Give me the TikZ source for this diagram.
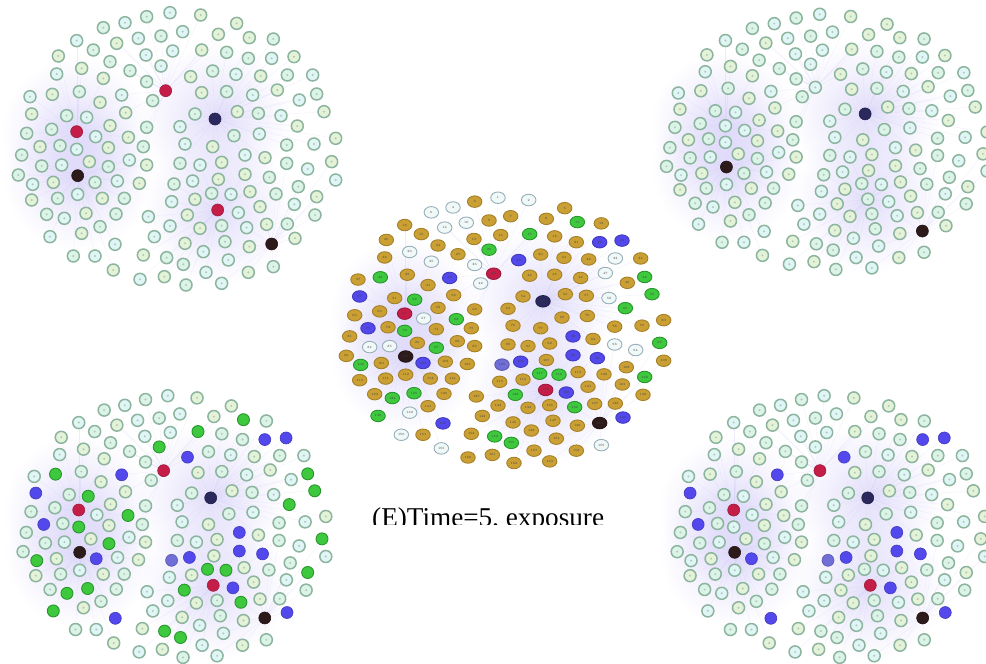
\documentclass[tikz,border=0pt]{standalone}
\usepackage{fontspec}
\newfontfamily\capfont{Liberation Serif}
\usetikzlibrary{backgrounds,fadings,shapes.geometric}
\definecolor{lfill0}{RGB}{220,243,232}
\definecolor{lfill1}{RGB}{224,245,245}
\definecolor{lfill2}{RGB}{228,242,215}
\definecolor{lborder}{RGB}{140,180,158}
\definecolor{ldot}{RGB}{172,204,184}
\definecolor{hred}{RGB}{196,30,72}
\definecolor{hnavy}{RGB}{42,40,92}
\definecolor{hblack}{RGB}{45,26,26}
\definecolor{nblue}{RGB}{82,72,235}
\definecolor{nlblue}{RGB}{112,110,215}
\definecolor{ngreen}{RGB}{62,200,62}
\definecolor{ngreenb}{RGB}{40,150,45}
\definecolor{ngold}{RGB}{202,160,52}
\definecolor{ngoldb}{RGB}{165,128,40}
\definecolor{nwhite}{RGB}{240,248,248}
\definecolor{nwhiteb}{RGB}{150,175,185}
\definecolor{edgec}{RGB}{205,200,245}
\definecolor{hazec}{RGB}{212,206,248}
\tikzfading[name=hazefade, inner color=transparent!35, outer color=transparent!100]
\tikzset{
 nd/.style={circle, inner sep=0pt, minimum size=12pt, line width=1.5pt},
 lv0/.style={fill=lfill0}, lv1/.style={fill=lfill1}, lv2/.style={fill=lfill2},
 lite/.style={nd, draw=lborder, path picture={\fill[ldot] (path picture bounding box.center) circle (1.1pt);}},
 hubR/.style={nd, fill=hred, draw=hred!80!black, line width=0.6pt, minimum size=12pt},
 hubN/.style={nd, fill=hnavy, draw=hnavy!80!black, line width=0.6pt, minimum size=12pt},
 hubK/.style={nd, fill=hblack, draw=hblack!80!black, line width=0.6pt, minimum size=12pt},
 grn/.style={nd, fill=ngreen, draw=ngreenb, line width=0.9pt, minimum size=12pt},
 blu/.style={nd, fill=nblue, draw=nblue!80!black, line width=0.6pt, minimum size=12pt},
 lblu/.style={nd, fill=nlblue, draw=nlblue!80!black, line width=0.6pt, minimum size=12pt},
 cnd/.style={ellipse, inner sep=0pt, minimum width=14.5pt, minimum height=11.5pt, line width=0.9pt, font=\fontsize{3.2}{3.2}\selectfont, text=black!75},
 hazeline/.style={draw=edgec, line width=0.3pt, opacity=0.35},
 tl-R/.style={hubR}, tl-N/.style={hubN}, tl-K/.style={hubK}, tl-G/.style={lite}, tl-B/.style={lite}, tl-L/.style={lite}, tl-W/.style={lite}, tl-O/.style={lite},
 tr-R/.style={lite}, tr-N/.style={hubN}, tr-K/.style={hubK}, tr-G/.style={lite}, tr-B/.style={lite}, tr-L/.style={lite}, tr-W/.style={lite}, tr-O/.style={lite},
 bl-R/.style={hubR}, bl-N/.style={hubN}, bl-K/.style={hubK}, bl-G/.style={grn}, bl-B/.style={blu}, bl-L/.style={lblu}, bl-W/.style={lite}, bl-O/.style={lite},
 br-R/.style={hubR}, br-N/.style={hubN}, br-K/.style={hubK}, br-G/.style={lite}, br-B/.style={blu}, br-L/.style={lblu}, br-W/.style={lite}, br-O/.style={lite},
 c-R/.style={cnd, fill=hred, draw=hred!80!black},
 c-N/.style={cnd, fill=hnavy, draw=hnavy!80!black},
 c-K/.style={cnd, fill=hblack, draw=hblack!80!black},
 c-G/.style={cnd, fill=ngreen, draw=ngreenb},
 c-B/.style={cnd, fill=nblue, draw=nblue!80!black},
 c-L/.style={cnd, fill=nlblue, draw=nlblue!80!black},
 c-W/.style={cnd, fill=nwhite, draw=nwhiteb},
 c-O/.style={cnd, fill=ngold, draw=ngoldb},
}
\def\nodelist{510/38/W, 602/45/W, 440/50/O, 375/68/W, 710/70/O, 310/83/W, 548/95/O, 655/103/O, 483/108/O, 415/115/W,
748/113/G, 820/117/O, 230/122/O, 350/130/W, 280/150/O, 518/153/O, 605/150/G, 680/157/O, 438/165/O, 175/168/O,
745/175/O, 815/175/B, 882/170/B, 330/185/O, 483/198/G, 245/205/W, 390/212/O, 170/222/O, 572/230/B, 638/213/O,
708/223/O, 782/228/O, 862/225/W, 938/225/O, 310/235/W, 440/245/W, 90/290/O, 157/283/G, 238/275/O, 365/285/B,
300/307/O, 458/302/W, 497/272/R, 605/278/O, 680/275/O, 758/285/O, 832/270/W, 950/282/G, 898/300/O, 95/342/B,
200/347/O, 260/352/G, 377/338/O, 585/342/O, 645/357/N, 712/335/O, 775/340/O, 843/347/W, 972/335/G, 155/388/O,
230/395/R, 330/377/O, 440/382/O, 540/380/O, 892/378/G, 80/400/O, 287/410/W, 385/412/G, 702/407/O, 778/402/O,
120/440/B, 180/437/O, 230/448/G, 325/443/O, 430/440/O, 555/432/O, 638/440/O, 860/435/O, 942/432/O, 1007/415/O,
65/465/O, 735/465/B, 795/473/O, 125/498/W, 185/495/W, 268/485/O, 325/500/G, 388/480/O, 440/495/O, 540/490/O,
600/495/O, 665/487/O, 860/490/W, 923/507/W, 995/485/G, 55/525/O, 233/527/K, 735/523/B, 808/532/B, 98/553/G,
160/547/O, 285/547/B, 352/543/O, 418/550/O, 522/552/L, 578/543/B, 655/538/O, 895/560/O, 1007/540/O, 95/600/O,
173/595/O, 233/583/O, 307/595/O, 373/595/O, 515/605/O, 585/598/O, 635/580/G, 693/583/G, 750/575/O, 828/582/O,
883/613/O, 950/590/G, 140/643/O, 193/655/G, 258/640/G, 348/642/O, 445/650/O, 562/645/G, 653/630/R, 715/638/B,
780/620/O, 945/645/O, 510/678/O, 600/685/O, 665/677/O, 740/683/G, 800/673/O, 862/672/O, 150/710/G, 245/700/W,
300/680/O, 463/710/O, 885/715/B, 815/732/K, 345/733/B, 555/730/O, 675/725/O, 610/755/O, 748/740/O, 220/768/W,
285/768/O, 430/765/O, 500/773/G, 685/780/O, 340/810/W, 550/793/G, 618/817/O, 745/817/O, 820/800/W, 420/838/O,
493/830/O, 558/855/O, 665/850/O}
\def\hublist{43/497/272, 61/230/395, 55/645/357, 97/233/527, 129/653/630, 144/815/732}
\newcommand\drawpanel[6]{%
\begin{scope}[shift={(#2pt,-#3pt)},x=#4pt,y=-#5pt]
 \foreach \x/\y/\c [count=\i] in \nodelist {%
   \pgfmathtruncatemacro\m{mod(\i,3)}%
   \edef\doit{\noexpand\node[lv\m,#1-\c] (#1-\i) at (\x,\y) {\ifnum#6=1 \i\fi};}%
   \doit
 }
 \begin{pgfonlayer}{background}
  \foreach \h in {61,97,129,55}{\fill[hazec, path fading=hazefade] (#1-\h) circle (75pt);}
  \foreach \x/\y/\c [count=\i] in \nodelist {%
    \gdef\bestd{9000}\gdef\best{0}%
    \foreach \h/\hx/\hy in \hublist {%
      \pgfmathparse{veclen(\x-\hx,\y-\hy)}%
      \ifdim\pgfmathresult pt<\bestd pt\relax \xdef\bestd{\pgfmathresult}\xdef\best{\h}\fi
    }%
    \ifdim\bestd pt>1pt\relax \draw[hazeline] (#1-\i) -- (#1-\best);\fi
  }
 \end{pgfonlayer}
\end{scope}}
\begin{document}
\begin{tikzpicture}[x=1pt,y=-1pt]
\useasboundingbox (0,0) rectangle (986,664);
\drawpanel{tl}{0}{0}{0.33333}{0.33333}{0}
\drawpanel{tr}{648}{2.4}{0.33667}{0.31233}{0}
\drawpanel{bl}{5.6}{383.5}{0.318}{0.32033}{0}
\drawpanel{br}{659.4}{383.5}{0.323}{0.32033}{0}
\drawpanel{c}{328}{185.4}{0.33333}{0.32467}{1}
\begin{scope}
\clip (340,480) rectangle (660,524.5);
\node[anchor=base west, inner sep=0pt, font=\capfont\fontsize{27.2}{30}\selectfont] (caption) at (372,526) {(E)Time=5, exposure};
\end{scope}
\end{tikzpicture}
\end{document}
